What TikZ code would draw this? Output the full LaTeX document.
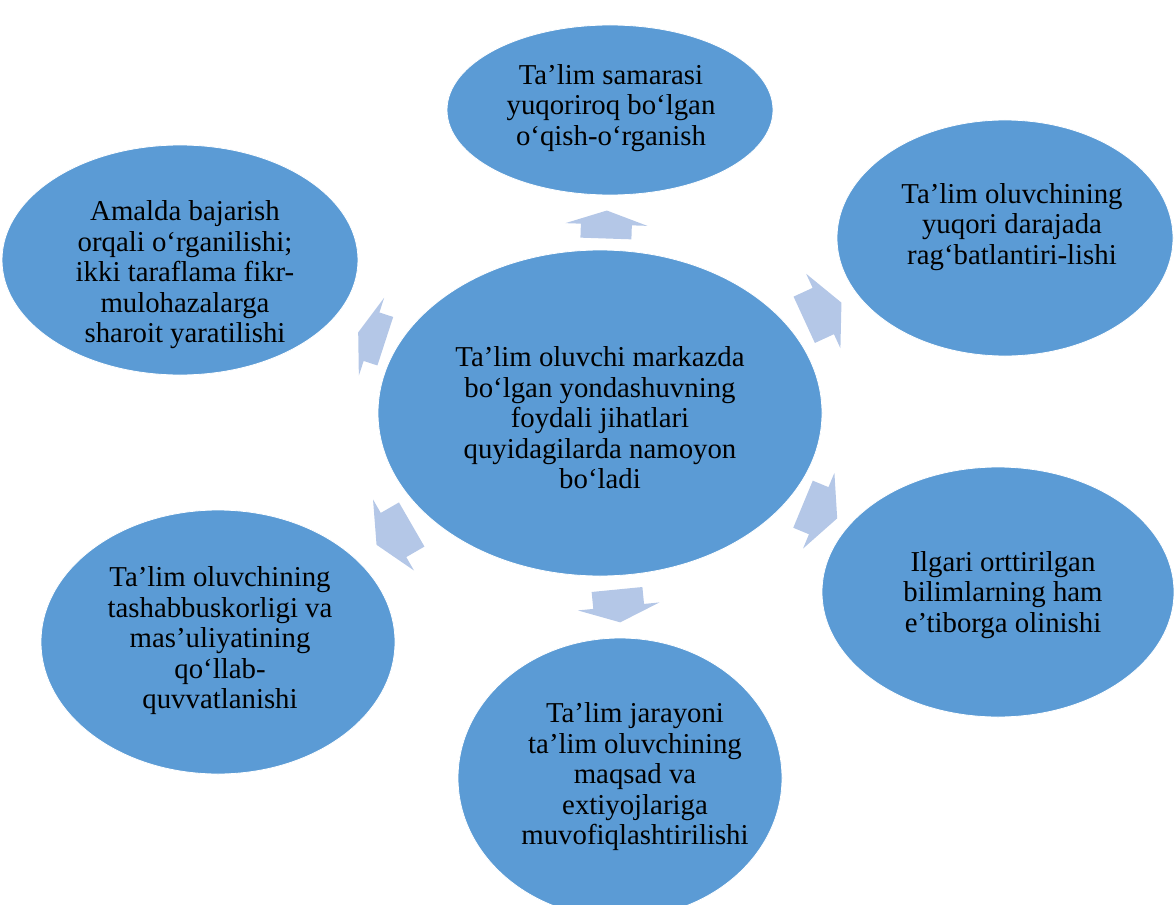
\documentclass[tikz,border=0pt]{standalone}
\usepackage{fontspec}
\setmainfont{Liberation Serif}
\usetikzlibrary{shapes.geometric,calc}
\definecolor{ellblue}{HTML}{5B9BD5}
\definecolor{arrblue}{HTML}{B4C7E7}
\tikzset{
  ell/.style={ellipse, fill=ellblue, draw=white, line width=0.8pt, inner sep=0pt},
  txt/.style={align=center, font=\fontsize{28.8}{30.5}\selectfont, text=black, inner sep=0pt},
  arrfill/.style={fill=arrblue, draw=none}
}
% #1 tail-mid coordinate name, #2 angle (image coords), #3 shaft length, #4 head length
\newcommand\blockarr[4]{%
  \path[arrfill] ($(#1)+(#2+90:25.5)$) -- ($(#1)+(#2+90:25.5)+(#2:#3)$)
    -- ($(#1)+(#2+90:41)+(#2:#3)$) -- ($(#1)+(#2:#3+#4)$)
    -- ($(#1)+(#2-90:41)+(#2:#3)$) -- ($(#1)+(#2-90:25.5)+(#2:#3)$)
    -- ($(#1)+(#2-90:25.5)$) -- cycle;}
\begin{document}
\begin{tikzpicture}[x=1pt,y=-1pt]
\useasboundingbox (0,0) rectangle (1174,904);
% ellipses
\node[ell, minimum width=444pt, minimum height=326pt] (c) at (600,413) {};
\node[ell, minimum width=326pt, minimum height=170pt] (t) at (610,110) {};
\node[ell, minimum width=336pt, minimum height=236pt] (tr) at (1005,238) {};
\node[ell, minimum width=352pt, minimum height=250pt] (br) at (998,592) {};
\node[ell, minimum width=324pt, minimum height=280pt] (b) at (620,778) {};
\node[ell, minimum width=354pt, minimum height=264pt] (bl) at (218,642) {};
\node[ell, minimum width=356pt, minimum height=230pt] (tl) at (180,260) {};
% texts
\node[txt] (ct) at (600,418) {Ta’lim oluvchi markazda\\bo‘lgan yondashuvning\\foydali jihatlari\\quyidagilarda namoyon\\bo‘ladi};
\node[txt] (tt) at (611,108) {Ta’lim samarasi\\yuqoriroq bo‘lgan\\o‘qish-o‘rganish};
\node[txt] (trt) at (1012,227) {Ta’lim oluvchining\\yuqori darajada\\rag‘batlantiri-lishi};
\node[txt] (brt) at (1003,595) {Ilgari orttirilgan\\bilimlarning ham\\e’tiborga olinishi};
\node[txt] (bt) at (635,777) {Ta’lim jarayoni\\ta’lim oluvchining\\maqsad va\\extiyojlariga\\muvofiqlashtirilishi};
\node[txt] (blt) at (220,641) {Ta’lim oluvchining\\tashabbuskorligi va\\mas’uliyatining\\qo‘llab-\\quvvatlanishi};
\node[txt] (tlt) at (185,275) {Amalda bajarish\\orqali o‘rganilishi;\\ikki taraflama fikr-\\mulohazalarga\\sharoit yaratilishi};
% arrows (tail midpoints)
\coordinate (a1) at (605.9,238.5);
\coordinate (a2) at (804.2,319.8);
\coordinate (a3) at (803,504.2);
\coordinate (a4) at (617,589.5);
\coordinate (a5) at (411.7,524.5);
\coordinate (a6) at (385.3,341.2);
\blockarr{a1}{-88.1}{14}{14}
\blockarr{a2}{-24.7}{21}{20}
\blockarr{a3}{22.5}{17}{20}
\blockarr{a4}{84.4}{17}{16}
\blockarr{a5}{150}{21}{19.6}
\blockarr{a6}{198}{14.5}{14}
\end{tikzpicture}
\end{document}
